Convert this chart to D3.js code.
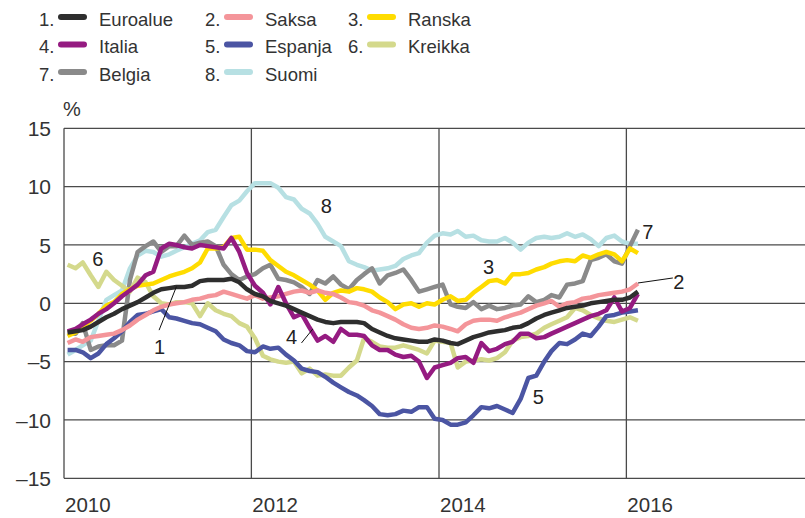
<!DOCTYPE html>
<html>
<head>
<meta charset="utf-8">
<script src="https://cdn.jsdelivr.net/npm/d3@7"></script>
<style>
  html, body { margin: 0; padding: 0; background: #fff; }
  svg { display: block; }
</style>
</head>
<body>
<svg id="chart" width="805" height="518"></svg>
<script>
// Monthly series, Jan 2010 – Feb 2016 (%)
const seriesNames = ["Euroalue", "Saksa", "Ranska", "Italia", "Espanja", "Kreikka", "Belgia", "Suomi"];
const seriesColors = ["#2e2e2e", "#f4959a", "#ffdc00", "#951b81", "#4b55a3", "#d4d98c", "#8a8a8a", "#b7e0e3"];

const euroalue = [-2.5,-2.4,-2.3,-2.0,-1.6,-1.2,-0.9,-0.5,-0.2,0.1, 0.5,0.9,1.2,1.3,1.4,1.4,1.5,1.9,2.0,2.0,
  2.0,2.1,1.8,1.2,0.8,0.6,0.2,0.0,-0.2,-0.5, -0.8,-1.1,-1.4,-1.6,-1.7,-1.6,-1.6,-1.6,-1.7,-2.2,
  -2.5,-2.8,-3.0,-3.1,-3.2,-3.3,-3.3,-3.1,-3.2,-3.4, -3.5,-3.2,-2.9,-2.7,-2.5,-2.4,-2.3,-2.1,-2.0,-1.7,
  -1.3,-1.0,-0.8,-0.6,-0.4,-0.3,-0.2,0.0,0.1,0.2, 0.3,0.3,0.5,1.0];
const saksa = [-3.4,-3.1,-3.3,-2.9,-2.8,-2.7,-2.6,-2.3,-1.9,-1.4, -1.0,-0.6,-0.3,-0.1,0.0,0.1,0.3,0.4,0.6,0.7,
  1.0,0.8,0.6,0.4,0.7,0.4,0.5,0.6,0.8,1.0, 1.1,0.9,1.1,0.9,0.8,0.5,0.1,0.0,-0.2,-0.6,
  -0.8,-1.1,-1.4,-1.8,-2.1,-2.2,-2.1,-1.9,-2.0,-2.2, -2.4,-1.8,-1.5,-1.4,-1.4,-1.5,-1.2,-1.0,-0.8,-0.5,
  -0.2,0.0,0.2,-0.3,0.0,0.1,0.4,0.5,0.7,0.8, 0.9,1.0,1.2,1.7];
const ranska = [-2.8,-2.5,-2.0,-1.5,-0.9,-0.2,0.1,0.8,1.2,1.5, 1.6,1.7,2.0,2.3,2.5,2.7,3.0,3.5,4.7,4.7,
  4.8,5.6,5.7,4.6,4.6,4.5,3.7,3.2,2.7,2.4, 2.0,1.6,1.1,0.3,0.9,1.1,1.0,1.3,1.2,1.0,
  0.5,0.1,-0.5,-0.1,0.0,-0.3,0.0,-0.1,0.3,0.6, 0.2,0.3,0.9,1.4,1.9,2.0,1.7,2.5,2.5,2.6,
  2.9,3.1,3.4,3.6,3.7,3.6,4.1,3.9,4.2,4.4, 4.2,3.6,4.7,4.3];
const italia = [-2.4,-2.2,-1.8,-1.4,-0.9,-0.5,0.0,0.6,1.1,1.6, 2.4,2.7,4.7,5.1,5.0,4.8,4.7,5.0,4.9,4.8,
  4.7,5.6,4.4,2.6,1.5,0.9,-0.1,1.4,0.0,-1.2, -0.9,-2.1,-3.2,-2.8,-3.3,-2.2,-2.7,-2.7,-2.8,-3.6,
  -4.0,-4.0,-4.4,-4.6,-4.5,-5.0,-6.4,-5.5,-5.3,-5.1, -4.7,-4.6,-5.1,-3.4,-4.1,-3.9,-3.5,-3.3,-2.6,-2.6,
  -3.0,-2.9,-2.6,-2.3,-2.0,-1.7,-1.4,-1.1,-0.9,-0.6, 0.5,-0.7,-0.4,0.8];
const espanja = [-4.0,-4.0,-4.2,-4.7,-4.3,-3.5,-3.0,-2.4,-1.6,-1.0, -0.9,-0.7,-0.5,-1.2,-1.3,-1.5,-1.7,-1.8,-2.1,-2.4,
  -3.1,-3.4,-3.6,-4.1,-4.2,-3.7,-3.9,-3.8,-4.4,-4.9, -5.6,-5.8,-5.9,-6.3,-6.8,-7.2,-7.6,-7.9,-8.3,-8.8,
  -9.5,-9.6,-9.5,-9.2,-9.3,-8.9,-8.9,-9.9,-10.0,-10.4, -10.4,-10.2,-9.6,-8.9,-9.0,-8.8,-9.1,-9.4,-8.2,-6.4,
  -6.2,-5.0,-4.1,-3.4,-3.5,-3.1,-2.6,-2.8,-2.0,-1.1, -1.0,-0.8,-0.7,-0.6];
const kreikka = [3.3,3.0,3.5,2.4,1.4,2.7,2.0,1.5,1.0,2.2, 1.8,0.6,0.0,-0.1,0.1,0.1,0.0,-1.1,0.0,-0.6,
  -0.9,-1.1,-1.7,-2.0,-3.0,-4.5,-4.8,-5.0,-5.1,-5.0, -6.0,-5.6,-6.2,-6.1,-6.2,-6.2,-5.5,-4.9,-3.0,-3.3,
  -3.7,-3.8,-3.8,-3.6,-3.8,-4.0,-4.3,-3.2,-3.3,-3.4, -5.5,-5.0,-4.9,-4.8,-4.9,-4.7,-4.2,-3.2,-2.9,-2.8,
  -2.6,-2.1,-1.8,-1.5,-1.2,-0.4,-0.6,-1.0,-1.3,-1.5, -1.6,-1.4,-1.2,-1.5];
const belgia = [-2.6,-2.6,-1.7,-4.0,-3.7,-3.6,-3.6,-3.2,2.0,4.4, 4.9,5.3,4.4,4.9,4.9,5.8,5.0,5.2,5.3,4.9,
  3.3,2.5,2.0,2.3,2.5,3.0,3.3,2.1,2.0,1.8, 1.4,0.8,2.0,1.7,2.3,1.6,1.2,2.0,2.5,3.0,
  1.7,2.4,2.6,2.9,2.0,1.0,1.2,1.4,1.6,-0.1, -0.3,-0.4,0.1,-0.5,-0.2,-0.5,-0.4,-0.2,-0.1,0.6,
  0.1,0.3,0.7,0.5,1.6,1.7,1.9,3.7,3.9,4.2, 3.6,3.4,4.9,6.3];
const suomi = [-4.4,-4.0,-3.6,-3.2,-1.5,0.3,0.7,1.1,3.0,4.1, 4.5,4.4,4.0,4.2,4.5,4.8,5.1,5.4,6.1,6.3,
  7.4,8.4,8.8,9.6,10.3,10.3,10.3,9.9,9.1,8.9, 8.1,7.7,6.8,5.7,5.3,4.9,3.6,3.3,3.1,2.8,
  2.9,3.0,3.2,3.8,4.1,4.3,5.2,5.8,6.0,5.9, 6.2,5.7,5.8,5.4,5.3,5.3,5.6,5.2,4.6,5.2,
  5.6,5.7,5.6,5.7,6.0,5.7,5.9,5.5,4.9,5.6, 5.8,5.3,5.1,5.1];

const yTicks = [15, 10, 5, 0, -5, -10, -15];
const xTickYears = [2010, 2012, 2014, 2016];

// Number labels beside the lines: [label, year (decimal), value]
const lineLabels = [["1", 2011.02, -3.75], ["4", 2012.43, -2.86], ["8", 2012.80, 8.34], ["3", 2014.53, 3.14],
                    ["6", 2010.36, 3.8], ["7", 2016.23, 6.14], ["2", 2016.56, 1.85], ["5", 2015.06, -8.03]];
// Leader lines: [year1, value1, year2, value2]
const leaders = [[2011.015, -2.3, 2011.20, 1.43], [2012.535, -3.4, 2012.656, -2.2], [2016.123, 1.74, 2016.496, 2.17]];

const allValues = [euroalue, saksa, ranska, italia, espanja, kreikka, belgia, suomi];
const months = d3.range(euroalue.length).map(i => new Date(2010, i, 15));

const svg = d3.select("#chart");
const plot = { left: 64, top: 128.3, bottom: 478.3 };

const x = d3.scaleTime().domain([new Date(2010, 0, 1), new Date(2018, 0, 1)]).range([plot.left, 814]);
const y = d3.scaleLinear().domain([-15, 15]).range([plot.bottom, plot.top]);
const yearX = yr => x(new Date(Math.floor(yr), 0, 1)) + (yr - Math.floor(yr)) * (x(new Date(2011, 0, 1)) - x(new Date(2010, 0, 1)));

const font = "'Liberation Sans', Arial, sans-serif";
const gridColor = "#4a4a4a";

// Horizontal gridlines
svg.append("g").selectAll("line").data(yTicks).join("line")
  .attr("x1", plot.left).attr("x2", 805)
  .attr("y1", d => y(d)).attr("y2", d => y(d))
  .attr("stroke", gridColor).attr("stroke-width", 1.3);

// Vertical gridlines at year ticks
svg.append("g").selectAll("line").data(xTickYears).join("line")
  .attr("x1", d => x(new Date(d, 0, 1))).attr("x2", d => x(new Date(d, 0, 1)))
  .attr("y1", plot.top).attr("y2", plot.bottom)
  .attr("stroke", gridColor).attr("stroke-width", 1.3);

// Y-axis tick labels
svg.append("g").selectAll("text").data(yTicks).join("text")
  .attr("x", 51).attr("y", d => y(d)).attr("dy", "0.36em")
  .attr("text-anchor", "end")
  .attr("font-family", font).attr("font-size", 21).attr("fill", "#333")
  .text(d => d < 0 ? "\u2013" + Math.abs(d) : d);

svg.append("text").attr("x", 63).attr("y", 116)
  .attr("font-family", font).attr("font-size", 20).attr("fill", "#333").text("%");

// X-axis year labels
svg.append("g").selectAll("text").data(xTickYears).join("text")
  .attr("x", d => x(new Date(d, 0, 1)) + 1).attr("y", 511.5)
  .attr("font-family", font).attr("font-size", 20.5).attr("fill", "#333")
  .text(d => d);

// Series lines
const line = d3.line().x((d, i) => x(months[i])).y(d => y(d));
svg.append("defs").append("clipPath").attr("id", "plotclip")
  .append("rect").attr("x", plot.left).attr("y", plot.top).attr("width", 805 - plot.left).attr("height", plot.bottom - plot.top);
const order = [7, 6, 5, 4, 2, 1, 3, 0];
svg.append("g").attr("clip-path", "url(#plotclip)")
  .selectAll("path").data(order).join("path")
  .attr("d", k => line(allValues[k]))
  .attr("fill", "none")
  .attr("stroke", k => seriesColors[k])
  .attr("stroke-width", 4.5)
  .attr("stroke-linejoin", "round");

// Leader lines and number labels
svg.append("g").selectAll("line").data(leaders).join("line")
  .attr("x1", d => yearX(d[0])).attr("y1", d => y(d[1]))
  .attr("x2", d => yearX(d[2])).attr("y2", d => y(d[3]))
  .attr("stroke", "#111").attr("stroke-width", 1);
svg.append("g").selectAll("text").data(lineLabels).join("text")
  .attr("x", d => yearX(d[1])).attr("y", d => y(d[2])).attr("dy", "0.36em")
  .attr("text-anchor", "middle")
  .attr("font-family", font).attr("font-size", 20).attr("fill", "#222")
  .text(d => d[0]);

// Legend: three columns
const legendFont = "'Liberation Sans Narrow', 'Liberation Sans', Arial, sans-serif";
const colX = [39, 205, 348];
const legend = svg.append("g");
seriesNames.forEach((name, k) => {
  const col = k % 3, row = Math.floor(k / 3);
  const base = 25.5 + row * 27.5;
  const gx = colX[col];
  legend.append("text").attr("x", gx).attr("y", base)
    .attr("font-family", legendFont).attr("font-size", 18.5).attr("fill", "#333")
    .text((k + 1) + ".");
  legend.append("line")
    .attr("x1", gx + 22).attr("x2", gx + 45)
    .attr("y1", base - 8.5).attr("y2", base - 8.5)
    .attr("stroke", seriesColors[k]).attr("stroke-width", 6).attr("stroke-linecap", "round");
  legend.append("text").attr("x", gx + 60).attr("y", base)
    .attr("font-family", legendFont).attr("font-size", 18.5).attr("fill", "#333")
    .text(name);
});
</script>
</body>
</html>
